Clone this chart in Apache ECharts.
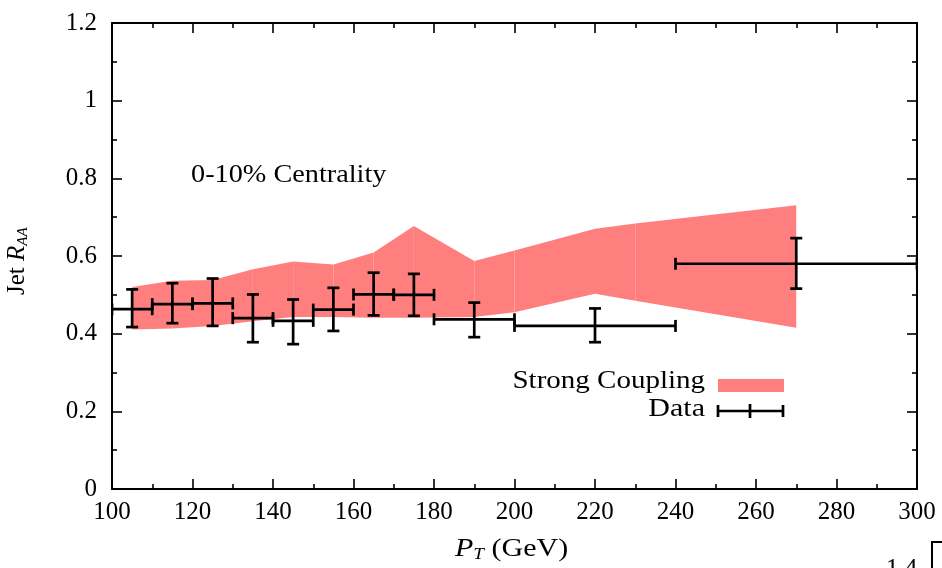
<!DOCTYPE html>
<html>
<head>
<meta charset="utf-8">
<script src="https://cdn.jsdelivr.net/npm/echarts@6/dist/echarts.min.js"></script>
<style>html,body{margin:0;padding:0;background:#fff;}#c{width:942px;height:568px;}</style>
</head>
<body>
<div id="c"></div>
<script>
// Theory band (Strong Coupling)
var bandX    = [105,   115,   125,   135,   145,   155,   165,   175,   190,   200,   220,   230,   270];
var bandLow  = [0.411, 0.413, 0.420, 0.432, 0.443, 0.443, 0.441, 0.441, 0.443, 0.455, 0.503, 0.485, 0.415];
var bandHigh = [0.520, 0.536, 0.538, 0.566, 0.586, 0.578, 0.609, 0.677, 0.587, 0.614, 0.670, 0.684, 0.731];

// Data points with errors
var dataX     = [105,   115,   125,   135,   145,   155,   165,   175,   190,   220,   270];
var dataY     = [0.463, 0.476, 0.478, 0.440, 0.433, 0.462, 0.501, 0.500, 0.437, 0.420, 0.580];
var dataXLow  = [100,   110,   120,   130,   140,   150,   160,   170,   180,   200,   240];
var dataXHigh = [110,   120,   130,   140,   150,   160,   170,   180,   200,   240,   300];
var dataYLow  = [0.417, 0.427, 0.420, 0.378, 0.373, 0.407, 0.447, 0.446, 0.391, 0.378, 0.516];
var dataYHigh = [0.514, 0.530, 0.542, 0.501, 0.488, 0.518, 0.557, 0.554, 0.480, 0.465, 0.646];

var xTicks = {min: 100, max: 300, interval: 20};
var yTicks = {min: 0, max: 1.2, interval: 0.2};

var FONT = 'Liberation Serif';
var chart = echarts.init(document.getElementById('c'), null, {renderer: 'canvas'});

var bandData = bandX.map(function (x, i) { return [x, bandLow[i], bandHigh[i]]; });
var errData = dataX.map(function (x, i) { return [x, dataY[i], dataXLow[i], dataXHigh[i], dataYLow[i], dataYHigh[i]]; });

function axisCommon(pos, showLabel) {
  return {
    type: 'value', position: pos,
    axisLine: {show: true, onZero: false, lineStyle: {color: '#000', width: 2}},
    axisTick: {show: true, inside: true, length: 10, lineStyle: {color: '#000', width: 1.6}},
    minorTick: {show: true, splitNumber: 2, length: 5, lineStyle: {color: '#000', width: 1.6}},
    splitLine: {show: false},
    axisLabel: {show: showLabel, color: '#000', fontFamily: FONT, fontSize: 25},
  };
}

var xb = axisCommon('bottom', true);
Object.assign(xb, xTicks); xb.axisLabel.margin = 11;
var xt = axisCommon('top', false);
Object.assign(xt, xTicks);
var yl = axisCommon('left', true);
Object.assign(yl, yTicks); yl.axisLabel.margin = 15;
var yr = axisCommon('right', false);
Object.assign(yr, yTicks);

var SX = 1.13;
var option = {
  backgroundColor: '#fff',
  animation: false,
  grid: {left: 112, top: 23, width: 805, height: 466, containLabel: false},
  xAxis: [xb, xt],
  yAxis: [yl, yr],
  series: [
    {
      name: 'Strong Coupling',
      type: 'custom',
      coordinateSystem: 'cartesian2d',
      xAxisIndex: 0, yAxisIndex: 0,
      clip: true,
      data: bandData,
      encode: {x: 0, y: [1, 2]},
      renderItem: function (params, api) {
        var i = params.dataIndex;
        if (i >= bandX.length - 1) return null;
        var p1 = api.coord([bandX[i], bandLow[i]]);
        var p2 = api.coord([bandX[i + 1], bandLow[i + 1]]);
        var p3 = api.coord([bandX[i + 1], bandHigh[i + 1]]);
        var p4 = api.coord([bandX[i], bandHigh[i]]);
        return {
          type: 'polygon',
          shape: {points: [p1, p2, p3, p4]},
          style: {fill: '#ff7f7f', stroke: null}
        };
      },
      z: 1
    },
    {
      name: 'Data',
      type: 'custom',
      coordinateSystem: 'cartesian2d',
      xAxisIndex: 0, yAxisIndex: 0,
      clip: true,
      data: errData,
      encode: {x: [0, 2, 3], y: [1, 4, 5]},
      renderItem: function (params, api) {
        var x = api.value(0), y = api.value(1);
        var l = api.coord([api.value(2), y]);
        var r = api.coord([api.value(3), y]);
        var b = api.coord([x, api.value(4)]);
        var t = api.coord([x, api.value(5)]);
        var cap = 6;
        var st = {stroke: '#000', lineWidth: 2.7, fill: null};
        var kids = [
          {type: 'line', shape: {x1: l[0], y1: l[1], x2: r[0], y2: r[1]}, style: st},
          {type: 'line', shape: {x1: b[0], y1: b[1], x2: t[0], y2: t[1]}, style: st},
          {type: 'line', shape: {x1: l[0], y1: l[1] - cap, x2: l[0], y2: l[1] + cap}, style: st},
          {type: 'line', shape: {x1: r[0], y1: r[1] - cap, x2: r[0], y2: r[1] + cap}, style: st},
          {type: 'line', shape: {x1: b[0] - cap, y1: b[1], x2: b[0] + cap, y2: b[1]}, style: st},
          {type: 'line', shape: {x1: t[0] - cap, y1: t[1], x2: t[0] + cap, y2: t[1]}, style: st}
        ];
        return {type: 'group', children: kids};
      },
      itemStyle: {color: '#000'},
      z: 3
    }
  ],
  graphic: [
    {type: 'text', x: 191, y: 163, scaleX: SX, style: {text: '0-10% Centrality', font: '25px "Liberation Serif"', fill: '#000'}},
    // legend
    {type: 'text', x: 705, y: 369, scaleX: 1.16, style: {text: 'Strong Coupling', font: '25px "Liberation Serif"', fill: '#000', textAlign: 'right'}},
    {type: 'rect', shape: {x: 718, y: 379, width: 66, height: 13}, style: {fill: '#ff7f7f'}},
    {type: 'text', x: 705, y: 397, scaleX: 1.2, style: {text: 'Data', font: '25px "Liberation Serif"', fill: '#000', textAlign: 'right'}},
    {type: 'line', shape: {x1: 718, y1: 411, x2: 783, y2: 411}, style: {stroke: '#000', lineWidth: 2.7}},
    {type: 'line', shape: {x1: 718, y1: 405, x2: 718, y2: 417}, style: {stroke: '#000', lineWidth: 2.7}},
    {type: 'line', shape: {x1: 783, y1: 405, x2: 783, y2: 417}, style: {stroke: '#000', lineWidth: 2.7}},
    {type: 'line', shape: {x1: 750, y1: 404, x2: 750, y2: 418}, style: {stroke: '#000', lineWidth: 2.7}},
    // axis titles
    {type: 'text', x: 455, y: 535, scaleX: 1.2, style: {
      text: '{i|P}{s|T} (GeV)', font: '25px "Liberation Serif"', fill: '#000',
      rich: {i: {fontFamily: FONT, fontSize: 25, fontStyle: 'italic'}, s: {fontFamily: FONT, fontSize: 16, fontStyle: 'italic', padding: [12, 0, 0, 0]}}
    }},
    {type: 'text', rotation: Math.PI / 2, x: 4, y: 295, style: {
      text: 'Jet {i|R}{s|AA}', font: '25px "Liberation Serif"', fill: '#000',
      rich: {i: {fontFamily: FONT, fontSize: 25, fontStyle: 'italic'}, s: {fontFamily: FONT, fontSize: 15, fontStyle: 'italic', padding: [12, 0, 0, 0]}}
    }},
    // neighbouring panel fragment
    {type: 'text', x: 886, y: 557, style: {text: '1.4', font: '25px "Liberation Serif"', fill: '#000'}},
    {type: 'polyline', shape: {points: [[932, 568], [932, 542], [942, 542]]}, style: {stroke: '#000', lineWidth: 2, fill: null}}
  ]
};
chart.setOption(option);
</script>
</body>
</html>
